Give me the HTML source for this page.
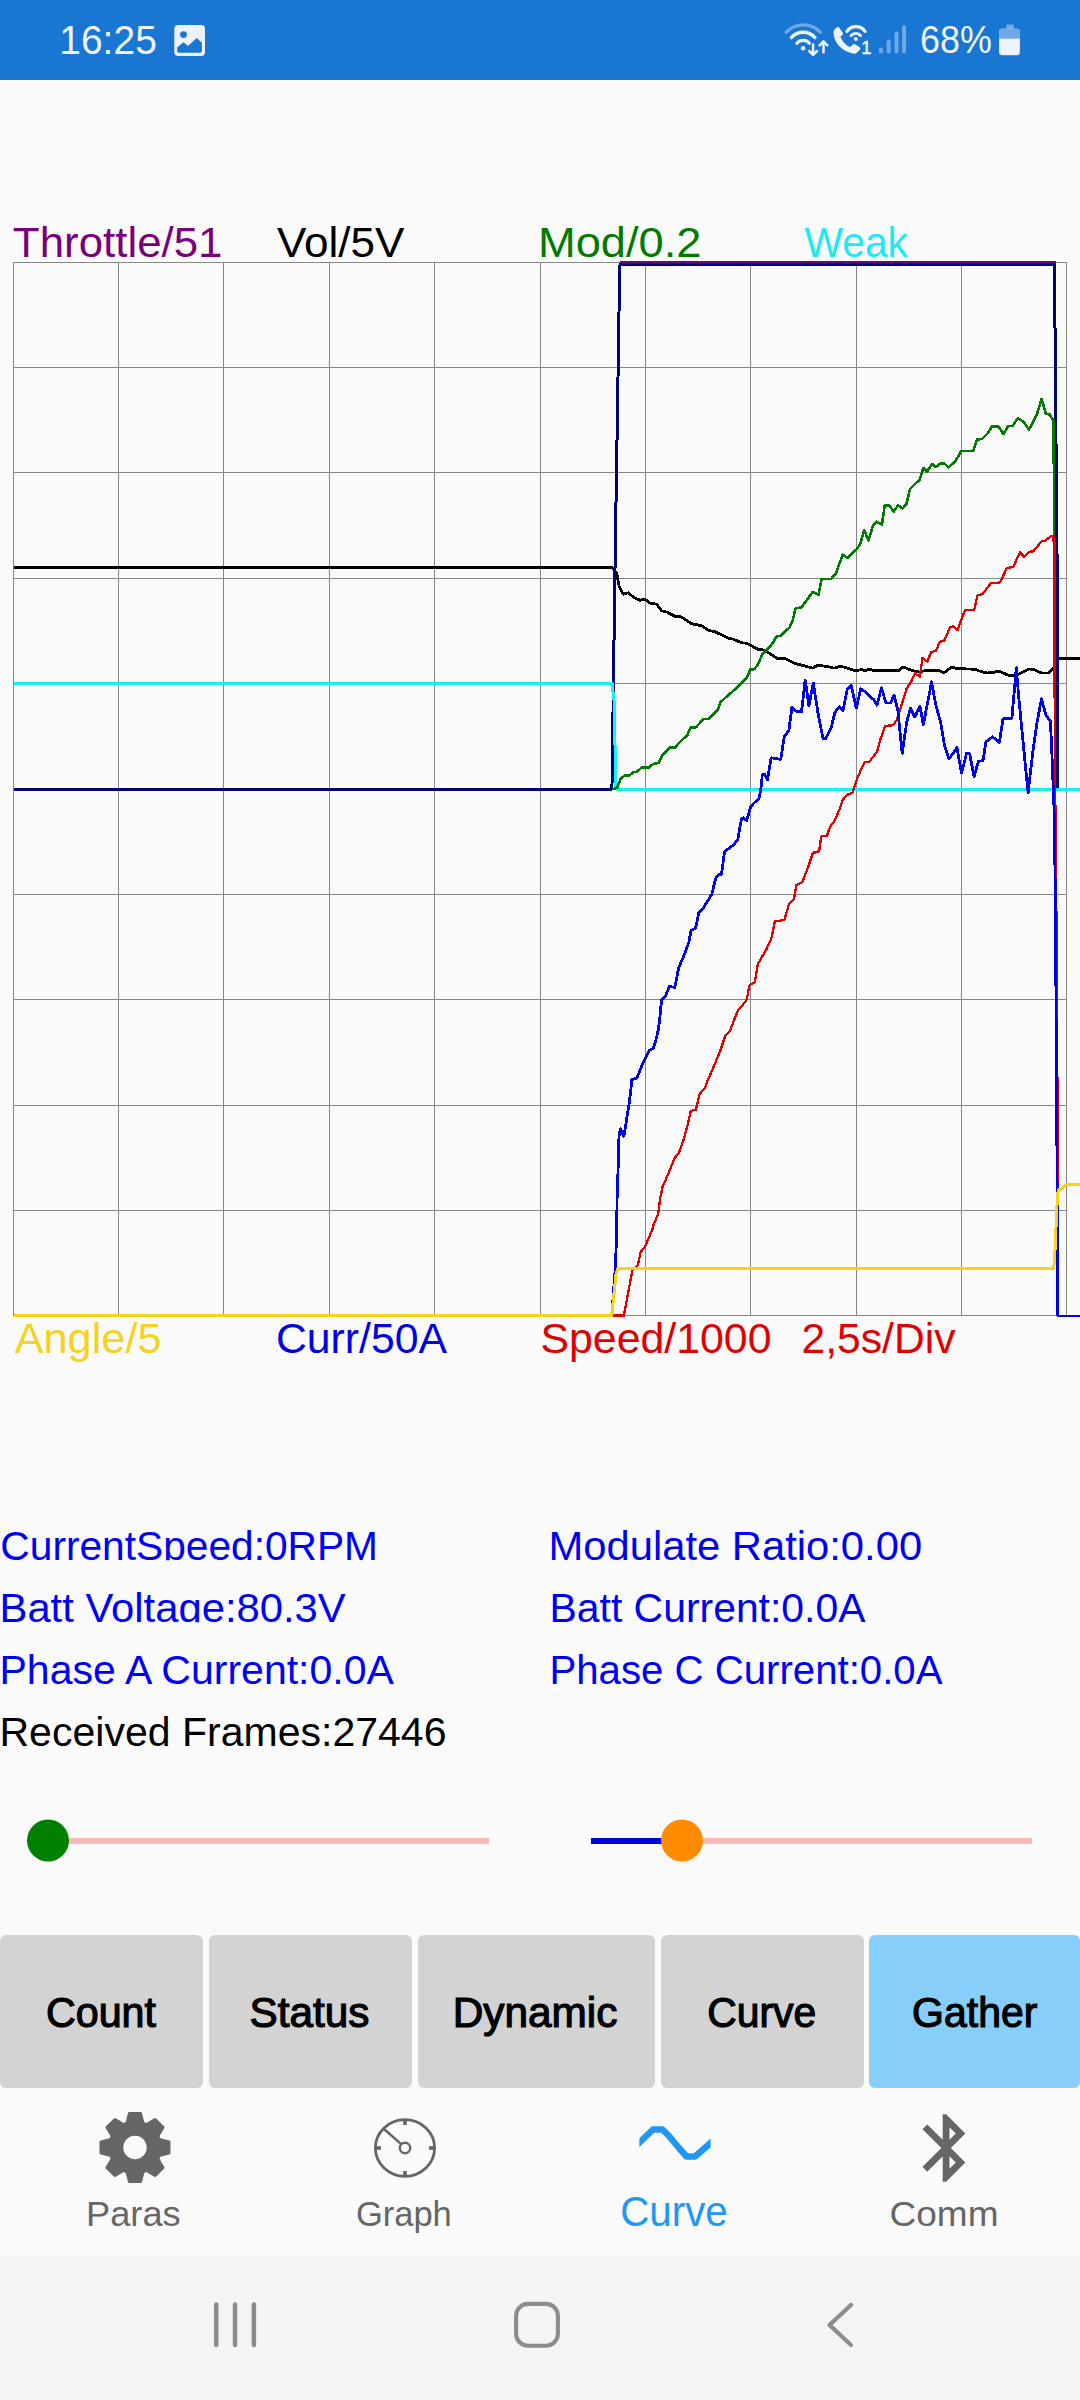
<!DOCTYPE html>
<html><head><meta charset="utf-8">
<style>
html,body{margin:0;padding:0;}
body{width:1080px;height:2400px;overflow:hidden;background:#fafafa;position:relative;font-family:"Liberation Sans",Arial,sans-serif;}
.abs{position:absolute;}
#status{left:0;top:0;width:1080px;height:80px;background:#1976d2;}
#sysnav{left:0;top:2256px;width:1080px;height:144px;background:#f4f4f4;}
.btn{position:absolute;top:1935px;height:153px;background:#d3d3d3;border-radius:6px;}
svg{position:absolute;left:0;top:0;overflow:visible;}
</style></head>
<body>
<div id="status" class="abs"></div>
<div id="sysnav" class="abs"></div>
<div class="btn" style="left:0;width:203px"></div>
<div class="btn" style="left:209px;width:203px"></div>
<div class="btn" style="left:418px;width:237px"></div>
<div class="btn" style="left:661px;width:203px"></div>
<div class="btn" style="left:869px;width:211px;background:#87cefa"></div>
<svg width="1080" height="2400" viewBox="0 0 1080 2400" font-family="Liberation Sans, Arial, sans-serif">
<g stroke="#878787" stroke-width="1" fill="none" shape-rendering="crispEdges">
<line x1="13.50" y1="262" x2="13.50" y2="1316"/>
<line x1="118.50" y1="262" x2="118.50" y2="1316"/>
<line x1="223.50" y1="262" x2="223.50" y2="1316"/>
<line x1="329.50" y1="262" x2="329.50" y2="1316"/>
<line x1="434.50" y1="262" x2="434.50" y2="1316"/>
<line x1="540.50" y1="262" x2="540.50" y2="1316"/>
<line x1="645.50" y1="262" x2="645.50" y2="1316"/>
<line x1="750.50" y1="262" x2="750.50" y2="1316"/>
<line x1="856.50" y1="262" x2="856.50" y2="1316"/>
<line x1="961.50" y1="262" x2="961.50" y2="1316"/>
<line x1="1066.50" y1="262" x2="1066.50" y2="1316"/>
<line x1="13" y1="262.50" x2="1067" y2="262.50"/>
<line x1="13" y1="367.50" x2="1067" y2="367.50"/>
<line x1="13" y1="472.50" x2="1067" y2="472.50"/>
<line x1="13" y1="578.50" x2="1067" y2="578.50"/>
<line x1="13" y1="683.50" x2="1067" y2="683.50"/>
<line x1="13" y1="789.50" x2="1067" y2="789.50"/>
<line x1="13" y1="894.50" x2="1067" y2="894.50"/>
<line x1="13" y1="999.50" x2="1067" y2="999.50"/>
<line x1="13" y1="1105.50" x2="1067" y2="1105.50"/>
<line x1="13" y1="1210.50" x2="1067" y2="1210.50"/>
<line x1="13" y1="1315.50" x2="1067" y2="1315.50"/>
</g>
<g fill="none" stroke-linejoin="round" stroke-linecap="butt" shape-rendering="crispEdges">
<polyline stroke="#000" stroke-width="2.8" points="13.5,567.5 612.5,567.5 616.7,573.3 619.2,586.7 623.3,594.2 628.3,592.8 633.3,597 640,600.3 644.7,599.2 650,603 656.7,604.2 661.7,610.8 666.7,612 675,616.3 681.7,617 691.7,623.7 701.7,625.8 708.3,630.3 715,631.7 728.3,638.3 733.3,639.2 741.7,642.8 746.7,643.3 758.3,649.5 763.3,650 768.3,652.5 776.7,658.3 784.4,658.2 795.6,663.7 804.4,665.9 812.6,668.1 817.8,665.2 828.1,666.7 834.1,668.1 840.7,666.2 847.4,668.1 855.6,670.7 862.2,669.6 865.2,670.7 869.6,669.2 874.1,670.7 898.5,670.7 903,667.1 908.1,668.9 914.1,671.1 920,672.2 924.4,670.7 939.3,670.7 943.7,673 951.9,667 957,668.5 974.8,669.3 979.3,671 986.7,673 994.8,672.2 998.5,671 1008.9,675.5 1016.3,675.5 1028.9,669 1034.1,669.6 1041.5,673 1048.9,673 1054.1,667.8 1056.3,658.9 1080,658.6"/>
<polyline stroke="#000078" stroke-width="3" points="13.5,789 611.5,789 612,785 615.4,540 617.5,410 619.5,280 620,264.6 1054.5,264.6 1055.5,390 1057,550 1058,789 1080,789"/>
<polyline stroke="#7a007a" stroke-width="2.3" points="619.6,262 1055.5,262"/>
<polyline stroke="#16f2f2" stroke-width="3" points="13.5,683.5 612,683.5 614,700 616,789 1080,789"/>
<polyline stroke="#007a00" stroke-width="2.6" points="612.5,789.5 617.2,787.3 620.7,778.6 624.8,775.7 628.8,775.7 633.5,772.2 637,771.6 641.7,767.5 648.7,767.5 653.3,764 658.6,762.8 661.5,757 662.3,755 669.7,747.6 674.8,747.6 680.8,741.1 687.3,735.1 690.6,727.7 696.1,727.2 703.5,718.9 708.6,718.9 717.9,709.6 720.6,702.2 723.9,699 737.8,686.9 746.7,677.8 750.4,669.3 754.1,669.3 757,665.9 763,653.3 768.9,647.9 773.3,642.2 776.3,636.6 780.7,635.6 789.6,627.4 792.6,620.7 795.6,608.4 801.5,607.4 807.4,599.3 812.6,591.9 818.5,594.8 821.5,579.3 831.1,578.8 835.6,574.1 842.6,554.8 847.8,557.8 856.7,549.2 860.4,543.7 864.1,530.1 868.5,540.7 873,525.2 876.7,521.8 881.9,524.7 884.8,505.2 889.3,505.2 893.7,511.9 898.1,505.2 902.6,508.4 906.3,504.4 910,488.9 919.6,479.7 923.3,468.1 927,471.4 932.2,464 935.9,467.1 940.4,463.7 944.8,463.7 948.5,467.4 955.6,460.8 961.3,451 973.3,451 977,439.6 982.2,438.9 988.1,433 991.9,426.3 998.5,426.3 1003.3,434.1 1008.1,426.3 1012.6,425.9 1017.8,418.1 1023.7,421.9 1028.9,429.7 1037,414.4 1041.5,398.9 1045.9,413.7 1049.6,414.4 1053.3,420.4 1054,480 1054.4,600 1055.2,789"/>
<polyline stroke="#e00000" stroke-width="2.3" points="611.7,1315.6 623.9,1315.6 632.2,1271.1 637.8,1265.6 640.6,1252.2 645,1246.7 652.2,1230 653.7,1224.4 658.1,1214.1 660.4,1197 662.6,1186.7 668.5,1173.3 674.4,1158.5 678.9,1152.6 683.3,1140.7 687.8,1124.4 690.7,1111.1 695.9,1109.6 699.6,1094.1 704.8,1088.1 707.8,1080 712.6,1069.3 720,1051.5 725.2,1035.9 729.6,1031.5 737.8,1010.7 742.2,1005.6 746.7,999.6 749.6,984.8 754.8,982.6 757.8,964.1 760,960.4 766,950 771.1,939.7 774.8,921.5 784.4,920 788.9,904.4 794.1,898.5 796.3,885.2 802.2,882.2 808.1,867.4 810.7,859.3 813,852.6 817.4,852.2 819.3,850 821.1,837.4 822.2,835.9 826.7,836.3 829.3,828.9 831.5,824.8 834.1,821.5 837,815.2 839.6,809.3 842.2,801.1 844.1,798.1 848.1,794.4 852.6,792.6 857.8,777 864.4,762.2 868.9,762.2 877,751.9 880.7,738.5 885.2,725.9 893.3,725.2 897,719.3 902.2,703 906.7,688.3 910.8,682.5 915,673.3 920,676.7 922.5,658 927.5,661.7 930.8,652.5 935.8,650.8 940,641.7 944.2,640.8 950,627.5 953.3,626.3 957.5,630 965,610 974.2,610 977.5,595 982.5,594.2 990.8,583.3 1000,582.5 1006.7,568.3 1013.3,566.7 1020,552.5 1024.2,556.7 1029.2,551.7 1033.3,551.3 1041.7,541.3 1045,540.8 1051.7,535.8 1053.6,535.8 1054.3,600 1055.2,789 1056.3,900 1057.5,1100 1058.3,1316"/>
<polyline stroke="#0000e4" stroke-width="2.8" points="13.5,1315.6 611.7,1315.6 615,1272.2 615.8,1255.6 616.7,1233.3 617,1201.5 618.1,1168.9 619,1136.3 620.4,1128.9 623.8,1136.3 626.3,1121.5 629.3,1102.2 630.8,1089.7 631.9,1079.6 637,1078.1 641.5,1066.3 649.6,1050 653.3,1048.5 655.6,1041.1 658.5,1029.3 660,1015.9 661.5,1000.4 665.2,996.7 669.6,986 674.8,987.8 678.5,968.5 685.9,950.7 688.9,941.9 691.1,930.5 695.6,928.1 698.8,912.6 703.7,907.4 711.9,894.1 715.6,878.5 718.5,874.8 721.5,874.1 724.4,852.6 727.4,849.3 733.3,845.2 737.8,839.3 741.5,818.5 743.7,817.8 746.7,820.7 750.4,807.4 752.6,804.4 759.3,797.8 761.5,784.4 762.2,774.8 764.4,774.1 767.4,779.7 771.1,757.8 774.8,758.5 780.7,759.3 784.4,736.3 788.9,730.4 791.9,707.4 795.6,711.1 801.5,711.9 805.2,680 808.9,705.9 813.3,683 817.8,711.9 823,738.5 825.9,738.5 831.1,728.1 834.8,712.6 839.3,706.7 843,710.4 847.4,688.9 851.1,685.2 856.3,708.1 860.7,688.9 865.2,691.9 874.1,700 877,705.2 881.5,687.9 885.9,703 890.4,703 894.1,695.3 897.8,710.4 902.2,753.3 906.7,722.2 910.4,708.1 914.8,717 919.3,707.4 920,706.3 923.3,724.8 931.6,681.9 935.6,704.1 940.7,722.6 944.4,744.8 948.9,758.9 957,747.8 961.5,773 966.7,753 969.6,753.7 974.1,776.7 978.5,761.1 983,760.8 985.9,741.9 992.6,736.7 999.3,742.6 1003,718.9 1011.9,718.1 1016.3,667.8 1018.5,694.4 1022.2,733 1028.1,793 1032.6,753.7 1037,722.6 1041.5,698.9 1045.9,715.2 1050.4,721.1 1051.9,753.7 1054.1,810 1055.3,890 1057,1160 1057.8,1316 1080,1316"/>
<polyline stroke="#f5d21e" stroke-width="3" points="13.5,1315.6 611.7,1315.6 616.1,1273.3 617.5,1269.5 620.6,1268 1053.8,1268.5 1055,1250 1057.5,1195 1058.5,1190 1062,1189 1066.1,1184.1 1080,1184.1"/>
</g>
<defs>
<clipPath id="wave"><rect x="639.4" y="2110" width="71.2" height="60"/></clipPath>
</defs>
<defs><clipPath id="cl_CurSpd"><rect x="-17.7" y="1500" width="432.2" height="60.30"/></clipPath><clipPath id="cl_BattV"><rect x="-17.0" y="1562" width="402.4" height="60.20"/></clipPath><clipPath id="cl_PhA"><rect x="-17.0" y="1624" width="450.1" height="60.20"/></clipPath><clipPath id="cl_Mod2"><rect x="532" y="1500" width="428.20000000000005" height="60.30"/></clipPath><clipPath id="cl_BattC"><rect x="533" y="1562" width="372" height="60.20"/></clipPath><clipPath id="cl_PhC"><rect x="533" y="1624" width="449" height="60.20"/></clipPath></defs>
<text x="59.22" y="54.1" font-size="41" fill="#eef3fb"  textLength="97.62" lengthAdjust="spacingAndGlyphs">16:25</text>
<text x="919.99" y="53.4" font-size="38.2" fill="#eef3fb"  textLength="71.82" lengthAdjust="spacingAndGlyphs">68%</text>
<text x="12.89" y="256.6" font-size="41.9" fill="#7a007a"  textLength="209.63" lengthAdjust="spacingAndGlyphs">Throttle/51</text>
<text x="276.99" y="256.6" font-size="41.9" fill="#000"  textLength="127.50" lengthAdjust="spacingAndGlyphs">Vol/5V</text>
<text x="537.91" y="256.6" font-size="41.9" fill="#007a00"  textLength="163.64" lengthAdjust="spacingAndGlyphs">Mod/0.2</text>
<text x="804.51" y="256.6" font-size="41.9" fill="#1de9f0"  textLength="103.51" lengthAdjust="spacingAndGlyphs">Weak</text>
<text x="14.69" y="1352.7" font-size="41.9" fill="#f5d21e"  textLength="146.79" lengthAdjust="spacingAndGlyphs">Angle/5</text>
<text x="275.98" y="1352.7" font-size="41.9" fill="#0000e4"  textLength="171.04" lengthAdjust="spacingAndGlyphs">Curr/50A</text>
<text x="540.49" y="1352.7" font-size="41.9" fill="#e00000"  textLength="231.01" lengthAdjust="spacingAndGlyphs">Speed/1000</text>
<text x="801.50" y="1352.7" font-size="41.9" fill="#e00000"  textLength="154.00" lengthAdjust="spacingAndGlyphs">2,5s/Div</text>
<text x="0.38" y="1560" font-size="40.6" fill="#0000f2"  textLength="377.64" lengthAdjust="spacingAndGlyphs" clip-path="url(#cl_CurSpd)">CurrentSpeed:0RPM</text>
<text x="-0.51" y="1622" font-size="40.6" fill="#0000f2"  textLength="346.21" lengthAdjust="spacingAndGlyphs" clip-path="url(#cl_BattV)">Batt Voltage:80.3V</text>
<text x="-0.51" y="1684" font-size="40.6" fill="#0000f2"  textLength="394.31" lengthAdjust="spacingAndGlyphs" clip-path="url(#cl_PhA)">Phase A Current:0.0A</text>
<text x="-0.52" y="1746" font-size="40.6" fill="#000"  textLength="447.02" lengthAdjust="spacingAndGlyphs">Received Frames:27446</text>
<text x="548.48" y="1560" font-size="40.6" fill="#0000f2"  textLength="373.64" lengthAdjust="spacingAndGlyphs" clip-path="url(#cl_Mod2)">Modulate Ratio:0.00</text>
<text x="549.49" y="1622" font-size="40.6" fill="#0000f2"  textLength="316.01" lengthAdjust="spacingAndGlyphs" clip-path="url(#cl_BattC)">Batt Current:0.0A</text>
<text x="549.49" y="1684" font-size="40.6" fill="#0000f2"  textLength="393.01" lengthAdjust="spacingAndGlyphs" clip-path="url(#cl_PhC)">Phase C Current:0.0A</text>
<text x="46.01" y="2027.3" font-size="43.3" fill="#000" stroke="#000" stroke-width="1.2" textLength="110.01" lengthAdjust="spacingAndGlyphs">Count</text>
<text x="249.51" y="2027.3" font-size="43.3" fill="#000" stroke="#000" stroke-width="1.2" textLength="120.02" lengthAdjust="spacingAndGlyphs">Status</text>
<text x="452.69" y="2027.3" font-size="43.3" fill="#000" stroke="#000" stroke-width="1.2" textLength="164.71" lengthAdjust="spacingAndGlyphs">Dynamic</text>
<text x="707.31" y="2027.3" font-size="43.3" fill="#000" stroke="#000" stroke-width="1.2" textLength="108.98" lengthAdjust="spacingAndGlyphs">Curve</text>
<text x="912.11" y="2027.3" font-size="43.3" fill="#000" stroke="#000" stroke-width="1.2" textLength="125.30" lengthAdjust="spacingAndGlyphs">Gather</text>
<text x="86.04" y="2225.9" font-size="34.2" fill="#666"  textLength="94.68" lengthAdjust="spacingAndGlyphs">Paras</text>
<text x="355.98" y="2225.9" font-size="34.2" fill="#666"  textLength="95.83" lengthAdjust="spacingAndGlyphs">Graph</text>
<text x="620.27" y="2225.5" font-size="42.8" fill="#2196f3"  textLength="107.46" lengthAdjust="spacingAndGlyphs">Curve</text>
<text x="889.56" y="2225.5" font-size="34.2" fill="#666"  textLength="108.98" lengthAdjust="spacingAndGlyphs">Comm</text>
<!-- sliders -->
<rect x="48" y="1838" width="441" height="6" fill="#f9b9b9"/>
<circle cx="48" cy="1840.5" r="21" fill="#008000"/>
<rect x="682" y="1838" width="350" height="6" fill="#f9b9b9"/>
<rect x="591" y="1838" width="91" height="6" fill="#0000dc"/>
<circle cx="682" cy="1840.5" r="21" fill="#ff8c00"/>
<!-- gear -->
<g fill="#666" transform="translate(135,2147.5)">
<circle r="27"/>
<g id="tooth"><path d="M-8.6,-22 L-5.6,-34 L5.6,-34 L8.6,-22 Z" stroke="#666" stroke-width="3" stroke-linejoin="round"/></g>
<use href="#tooth" transform="rotate(45)"/>
<use href="#tooth" transform="rotate(90)"/>
<use href="#tooth" transform="rotate(135)"/>
<use href="#tooth" transform="rotate(180)"/>
<use href="#tooth" transform="rotate(225)"/>
<use href="#tooth" transform="rotate(270)"/>
<use href="#tooth" transform="rotate(315)"/>
<circle r="11.7" fill="#fafafa"/>
</g>
<!-- dial -->
<g fill="none" stroke="#666" transform="translate(405,2148)">
<ellipse rx="29.6" ry="28.3" stroke-width="2.8"/>
<circle r="5.2" stroke-width="2.4"/>
<line x1="-3.8" y1="-3.8" x2="-21" y2="-19" stroke-width="2.4"/>
<g stroke-width="3.6">
<line x1="0" y1="-28" x2="0" y2="-23"/>
<line x1="0" y1="28" x2="0" y2="23"/>
<line x1="-29" y1="0" x2="-24" y2="0"/>
<line x1="29" y1="0" x2="24" y2="0"/>
</g>
</g>
<!-- wave -->
<polyline clip-path="url(#wave)" fill="none" stroke="#2196f3" stroke-width="6.5" stroke-linejoin="round" points="636,2146 653,2129.5 662.5,2129.5 669,2136 679,2148 686.5,2156.5 695,2156.5 714,2140"/>
<!-- bluetooth -->
<path fill="#666" transform="translate(905.6,2107.5) scale(3.375)" d="M17.71 7.71L12 2h-1v7.59L6.41 5 5 6.41 10.59 12 5 17.59 6.41 19 11 14.41V22h1l5.71-5.71-4.3-4.29 4.3-4.29zM13 5.83l1.88 1.88L13 9.59V5.83zm1.88 10.46L13 18.17v-3.76l1.88 1.88z"/>
<!-- system nav -->
<g stroke="#8c8c8c" fill="none" stroke-linecap="round">
<line x1="216.2" y1="2304.5" x2="216.2" y2="2345" stroke-width="4.5"/>
<line x1="235" y1="2304.5" x2="235" y2="2345" stroke-width="4.5"/>
<line x1="253.9" y1="2304.5" x2="253.9" y2="2345" stroke-width="4.5"/>
<rect x="516.1" y="2303.9" width="41.8" height="41.9" rx="12" stroke-width="4.1"/>
<polyline points="851,2305 829.5,2325 851,2345" stroke-width="4.2" stroke-linejoin="round"/>
</g>
<!-- right status icons -->
<g fill="none" stroke-linecap="round">
<path d="M786.2,32.2 A23.4,23.4 0 0 1 820.3,32.2" stroke="#6fa8e6" stroke-width="3.2"/>
<path d="M791.3,37.6 A15.8,15.8 0 0 1 815,37.6" stroke="#eef4fc" stroke-width="3.3"/>
<path d="M796.9,43.2 A8.2,8.2 0 0 1 809.4,43.2" stroke="#eef4fc" stroke-width="3.2"/>
<g stroke="#eef4fc" stroke-width="2.5" stroke-linejoin="round">
<path d="M813.1,44.6 V54"/><path d="M809.2,51 L813.1,54.8 L817,51"/>
<path d="M823.5,52.2 V42"/><path d="M819.6,45.4 L823.5,41.4 L827.4,45.4"/>
</g>
<path d="M847,31.4 A11,11 0 0 1 865,31.4" stroke="#eef4fc" stroke-width="3.2"/>
<path d="M851,35.6 A6.2,6.2 0 0 1 860.6,35.6" stroke="#eef4fc" stroke-width="2.8"/>
</g>
<circle cx="803.1" cy="48.3" r="2.2" fill="#eef4fc"/>
<circle cx="855.8" cy="39" r="2" fill="#eef4fc"/>
<path fill="#eef4fc" d="M833.4,31.8 Q834.2,28.3 837.6,26.9 Q838.6,26.6 839.2,27.5 L843,33.2 Q843.4,34.3 842.4,35.1 L840.3,36.8 Q842.6,42.2 847,45.4 Q849,46.8 850.6,46.8 L852.8,44.4 Q853.8,43.6 855,44.2 L859.7,47.3 Q860.9,48.4 860,49.7 L856.4,53.1 Q855.4,53.9 853.8,53.7 Q845,52.3 838.6,45.6 Q833.8,40 833.4,31.8 Z"/>
<text x="861.2" y="53.8" font-size="18.4" fill="#eef4fc" stroke="#eef4fc" stroke-width="0.5">1</text>
<g stroke="#6fa8e6" stroke-width="4" stroke-linecap="round">
<line x1="881" y1="49.4" x2="881" y2="51.6"/>
<line x1="888.6" y1="41.5" x2="888.6" y2="51.6"/>
<line x1="896.5" y1="33.6" x2="896.5" y2="51.6"/>
<line x1="904.1" y1="27.2" x2="904.1" y2="51.6"/>
</g>
<rect x="1006.3" y="24.5" width="7.6" height="6" rx="1.2" fill="#6fa8e6"/>
<rect x="999.1" y="28.8" width="20.8" height="26.5" rx="3.2" fill="#eef4fc"/>
<path d="M999.1,38.8 V32 a3.2,3.2 0 0 1 3.2,-3.2 H1016.7 a3.2,3.2 0 0 1 3.2,3.2 V38.8 Z" fill="#6fa8e6"/>
<!-- status bar icons -->
<g>
<!-- image icon -->
<rect x="174.3" y="25" width="30.7" height="31" rx="4" fill="#eef3fb"/>
<circle cx="183.5" cy="34.6" r="3.4" fill="#1976d2"/>
<path d="M177.2,47.2 L183.5,42.2 L188,45.9 L196.7,38 L201.9,42.8 V51 Q201.9,52.8 200,52.8 H179 Q177.2,52.8 177.2,51 Z" fill="#1976d2"/>
</g>
</svg>
</body></html>
